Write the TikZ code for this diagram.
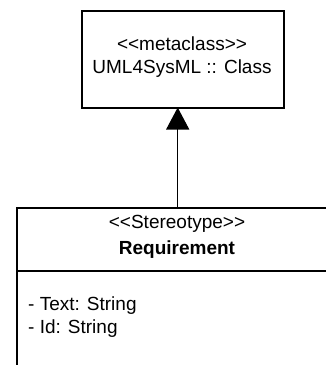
\documentclass[tikz,border=0pt]{standalone}
\usepackage{fontspec}
\setmainfont{Liberation Sans}
\usetikzlibrary{arrows.meta}
\begin{document}
\begin{tikzpicture}[x=1pt,y=-1pt,
  box/.style={draw=black, line width=1.5pt, inner sep=0pt},
  txt/.style={inner sep=0pt, font=\fontsize{19}{23}\selectfont, text=black},
  gen/.style={draw=black, line width=1.2pt, -{Triangle[width=23pt,length=22pt]}}]
\useasboundingbox (0,0) rectangle (326,365);
\clip (0,0) rectangle (326,365);
\node[box, minimum width=202pt, minimum height=97pt, anchor=north west] (meta) at (81,10) {};
\node[txt, align=center] (metatext) at (182,57) {{<}{<}metaclass{>}{>}\\UML4SysML :: Class};
\node[box, minimum width=330pt, minimum height=200pt, anchor=north west] (req) at (16,207) {};
\draw[line width=1.2pt] (16,271) coordinate (divl) -- (346,271) coordinate (divr);
\node[txt, align=center] (st) at (177,224) {{<}{<}Stereotype{>}{>}};
\node[txt, font=\fontsize{19}{23}\selectfont\bfseries] (rqname) at (177,250) {Requirement};
\node[txt, align=left, anchor=north west] (attrs) at (28,297) {- Text: String\\- Id: String};
\coordinate (a1) at (177.7,207);
\coordinate (a2) at (177.7,107.5);
\draw[gen] (a1) -- (a2);
\end{tikzpicture}
\end{document}
